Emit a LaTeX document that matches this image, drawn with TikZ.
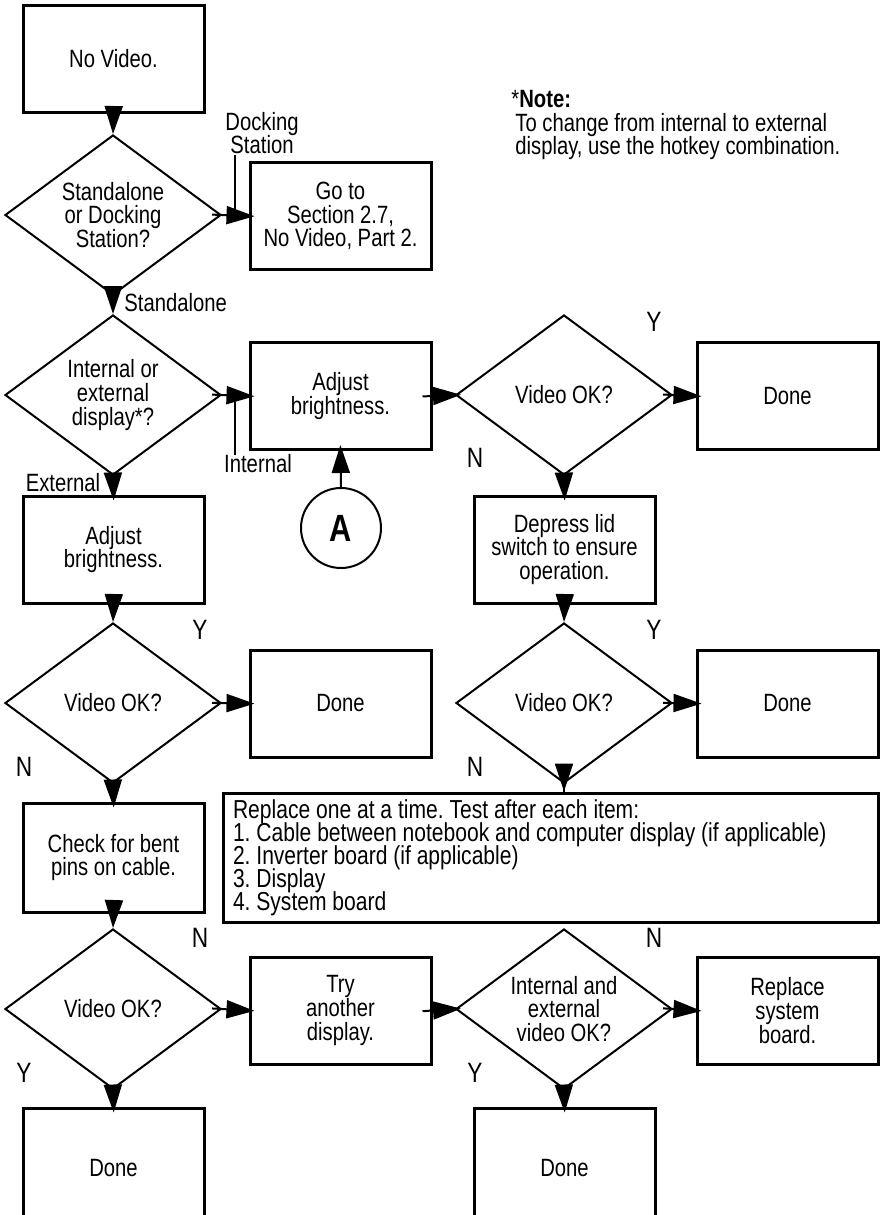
\documentclass[tikz,border=0pt]{standalone}
\usepackage{fontspec}
\setmainfont{Liberation Sans}[FakeStretch=0.81]
\usetikzlibrary{shapes.geometric,arrows.meta}

\tikzset{
  stepbox/.style={draw, line width=1.5pt, minimum width=90.5pt, minimum height=53.5pt, inner sep=2pt, align=center},
  ask/.style={draw, diamond, line width=1pt, minimum width=108pt, minimum height=80pt, aspect=1.35, inner sep=0pt, align=center},
  flow/.style={line width=1pt, -{Triangle[length=14pt,width=9pt]}, shorten <=-5pt},
  flowin/.style={flow, shorten >=-3pt},
  yn/.style={inner sep=0pt, font=\fontsize{14}{14}\selectfont},
  lbl/.style={inner sep=0pt, align=center},
  tick/.style={line width=0.8pt}
}

\begin{document}
\frenchspacing
\begin{tikzpicture}[x=0.5pt, y=-0.5pt, font=\fontsize{12.5}{11.8}\selectfont]
   \useasboundingbox (0,0) rectangle (881,1215);

   % top: start and docking question
   \node[stepbox] (novideo) at (113.5,58.5) {No Video.};
   \node[ask] (dock) at (113,215) {Standalone\\or Docking\\Station?};
   \node[stepbox] (goto) at (340.5,216) {Go to\\Section 2.7,\\No Video, Part 2.};

   \node[lbl, align=left, anchor=north west] (note) at (511,90)
      {*\textbf{Note:}\\\hspace*{2pt}To change from internal to external\\\hspace*{2pt}display, use the hotkey combination.};

   % internal / external
   \node[ask] (intext) at (113,395) {Internal or\\external\\display*?};
   \node[stepbox] (brightint) at (340.5,396) {Adjust\\brightness.};
   \node[ask] (okint) at (564,395) {Video OK?};
   \node[stepbox] (doneint) at (787.5,396) {Done};

   \node[stepbox] (brightext) at (113.5,549.5) {Adjust\\brightness.};
   \node[draw, circle, line width=1pt, minimum size=40pt, inner sep=0pt,
         font=\fontsize{19}{19}\selectfont\bfseries] (entryA) at (341,528) {A};
   \node[stepbox] (lid) at (564.5,549.5) {Depress lid\\switch to ensure\\operation.};

   \node[ask] (okext) at (113,703) {Video OK?};
   \node[stepbox] (doneext) at (340.5,703.5) {Done};
   \node[ask] (oklid) at (564,703) {Video OK?};
   \node[stepbox] (donelid) at (787.5,703.5) {Done};

   % replacement list
   \node[stepbox, minimum width=327.5pt, minimum height=64.5pt, text width=317.5pt,
         inner xsep=5pt, align=flush left, font=\fontsize{13}{11.5}\selectfont] (replace) at (550.5,857.5)
      {\baselineskip=11.5pt\lineskiplimit=-20pt\lineskip=0pt
       Replace one at a time. Test after each item:\\
       1. Cable between notebook and computer display (if applicable)\\
       2. Inverter board (if applicable)\\
       3. Display\\
       4. System board\par};

   \node[stepbox, minimum height=54.5pt] (pins) at (113.5,857.5) {Check for bent\\pins on cable.};
   \node[ask] (okpins) at (113,1009) {Video OK?};
   \node[stepbox] (trydisp) at (340.5,1010.5) {Try\\another\\display.};
   \node[ask] (okboth) at (564,1009) {Internal and\\external\\video OK?};
   \node[stepbox] (sysboard) at (787.5,1010.5) {Replace\\system\\board.};

   % bottom boxes run off the page
   \node[stepbox, minimum height=60pt] (donepins) at (113.5,1168) {Done};
   \node[stepbox, minimum height=60pt] (doneboth) at (564.5,1168) {Done};

   % branch labels
   \node[lbl] (docklbl) at (262,133) {Docking\\Station};
   \coordinate (docktick) at (235,155);
   \draw[tick] (docktick) -- (docktick |- dock.east);
   \node[lbl, anchor=west] (stdlbl) at (124,303) {Standalone};
   \node[lbl] (intlbl) at (258,464) {Internal};
   \coordinate (inttick) at (235,455);
   \draw[tick] (inttick) -- (inttick |- intext.east);
   \node[lbl] (extlbl) at (63,483) {External};

   \node[yn] (yint) at (654,322) {Y};
   \node[yn] (nint) at (475,458) {N};
   \node[yn] (yext) at (200,630) {Y};
   \node[yn] (next) at (24,767) {N};
   \node[yn] (ylid) at (654,630) {Y};
   \node[yn] (nlid) at (475,767) {N};
   \node[yn] (npins) at (200,938) {N};
   \node[yn] (ypins) at (24,1073) {Y};
   \node[yn] (nboth) at (654,938) {N};
   \node[yn] (yboth) at (475,1073) {Y};

   % connectors
   \draw[flow] (novideo.south) -- (dock.north);
   \draw[flowin] (dock.east) -- (goto.west);
   \draw[flow] (dock.south) -- (intext.north);
   \draw[flowin] (intext.east) -- (brightint.west);
   \draw[flowin] (intext.south) -- (brightext.north);
   \draw[flowin] (brightint.east) -- (okint.west);
   \draw[flowin] (okint.east) -- (doneint.west);
   \draw[flowin] (okint.south) -- (lid.north);
   \draw[flowin, shorten <=0pt] (entryA.north) -- (brightint.south);
   %\draw[flow] (entryA.north) -- (brightint.south);

   \draw[flow] (brightext.south) -- (okext.north);
   \draw[flowin] (okext.east) -- (doneext.west);
   \draw[flowin] (okext.south) -- (pins.north);
   \draw[flow] (lid.south) -- (oklid.north);
   \draw[flowin] (oklid.east) -- (donelid.west);
   \draw[flow] (oklid.south) -- (oklid.south |- replace.north);

   \draw[flow] (pins.south) -- (okpins.north);
   \draw[flowin] (okpins.east) -- (trydisp.west);
   \draw[flowin] (okpins.south) -- (donepins.north);
   \draw[flowin] (trydisp.east) -- (okboth.west);
   \draw[flowin] (okboth.east) -- (sysboard.west);
   \draw[flowin] (okboth.south) -- (doneboth.north);
\end{tikzpicture}
\end{document}
